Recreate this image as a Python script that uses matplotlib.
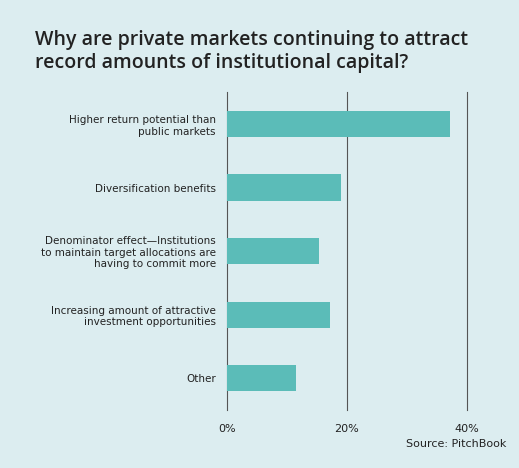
import matplotlib.pyplot as plt

# survey answers, top to bottom
categories = [
    "Higher return potential than\npublic markets",
    "Diversification benefits",
    "Denominator effect\u2014Institutions\nto maintain target allocations are\nhaving to commit more",
    "Increasing amount of attractive\ninvestment opportunities",
    "Other",
]
shares = [37.2, 19.0, 15.3, 17.2, 11.5]
ticks = [0, 20, 40]
tick_labels = ["0%", "20%", "40%"]

bg = "#dcedf0"
fig = plt.figure(figsize=(5.19, 4.68), dpi=100, facecolor=bg)
ax = fig.add_axes([0.437, 0.124, 0.463, 0.679], facecolor=bg)

ax.barh(range(len(shares)), shares, height=0.41, color="#5bbcb8", zorder=2)
ax.set_ylim(4.5, -0.5)
ax.set_xlim(0, 40)
ax.set_yticks(range(len(categories)))
ax.set_yticklabels(categories, fontsize=7.5, color="#222222", ha="right")
ax.set_xticks(ticks)
ax.set_xticklabels(tick_labels, fontsize=8, color="#222222")
ax.tick_params(length=0, pad=10)
ax.tick_params(axis="y", pad=8)
for t in ticks:
    ax.axvline(t, color="#555555", lw=0.8, zorder=1, clip_on=False)
for s in ax.spines.values():
    s.set_visible(False)

fig.text(0.067, 0.89, "Why are private markets continuing to attract\nrecord amounts of institutional capital?",
         fontsize=14, color="#222222", va="center", ha="left", linespacing=1.15,
         family=["Open Sans", "DejaVu Sans"], fontweight="semibold")
fig.text(0.975, 0.045, "Source: PitchBook", fontsize=8, color="#222222", ha="right")

fig.savefig("out.png", dpi=100, facecolor=bg)
